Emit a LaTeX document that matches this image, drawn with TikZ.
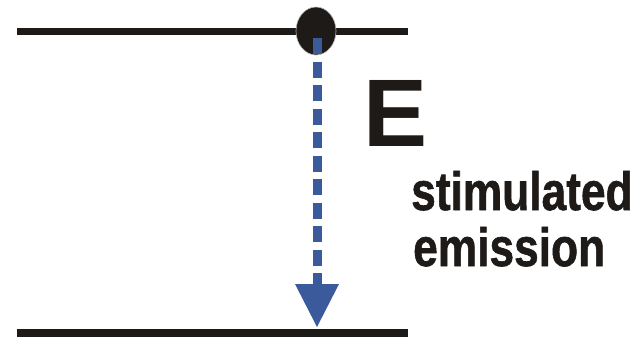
\documentclass[tikz,border=0pt]{standalone}
\usepackage{fontspec}
\setmainfont{Liberation Sans}
\newfontfamily\lblfont[FakeBold=1.2]{Liberation Sans Bold}
\usetikzlibrary{shapes.geometric}
\definecolor{ink}{HTML}{1E1A18}
\definecolor{arrowblue}{HTML}{3B5A9C}
\tikzset{
  level/.style={draw=ink, line width=7.5pt},
  electron/.style={ellipse, fill=ink, draw=ink!30, line width=0.6pt, minimum width=40pt, minimum height=48pt, inner sep=0pt},
  shaft/.style={draw=arrowblue, line width=9pt, dash pattern=on 16pt off 7.5pt},
  headtri/.style={fill=arrowblue},
  bigletter/.style={anchor=base west, inner sep=0pt, text=ink, font=\bfseries\fontsize{96}{100}\selectfont},
  label/.style={anchor=base west, inner sep=0pt, text=ink, font=\lblfont\fontsize{54}{56}\selectfont}
}
\begin{document}
\begin{tikzpicture}[x=1pt,y=-1pt]
\useasboundingbox (0,0) rectangle (644,338);
% energy levels
\coordinate (upL) at (17,31.5);
\coordinate (upR) at (408,31.5);
\coordinate (loL) at (17,333);
\coordinate (loR) at (408,333);
\draw[level] (upL) -- (upR);
\draw[level] (loL) -- (loR);
% electron
\node[electron] (el) at (316,31) {};
% dashed arrow
\coordinate (shaftTop) at (317.5,38);
\coordinate (headTop) at (317.5,284);
\coordinate (headL) at (295,284);
\coordinate (headR) at (339,284);
\coordinate (tip) at (317,327);
\draw[shaft] (shaftTop) -- (headTop);
\fill[headtri] (headL) -- (headR) -- (tip) -- cycle;
% labels
\node[bigletter] (E) at (363,146) {E};
\node[label] (stim) at (411,210) {\scalebox{0.82}[1]{stimulated}};
\node[label] (emis) at (413,266) {\scalebox{0.82}[1]{emission}};
\end{tikzpicture}
\end{document}
